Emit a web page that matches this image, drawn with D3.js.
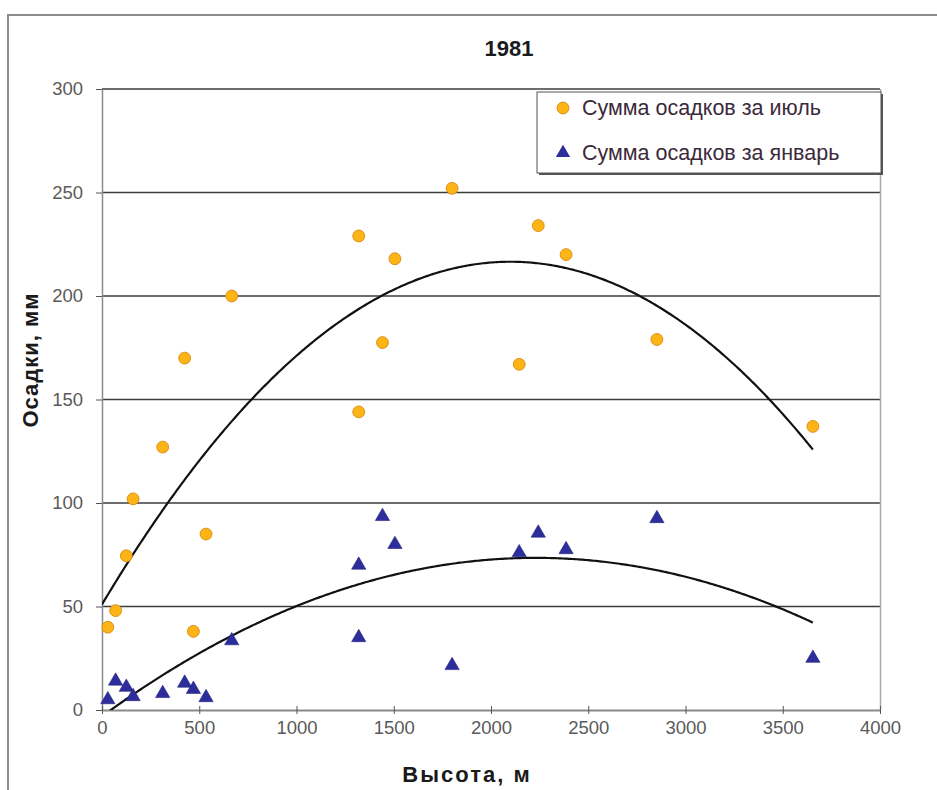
<!DOCTYPE html>
<html>
<head>
<meta charset="utf-8">
<script src="https://cdn.jsdelivr.net/npm/d3@7"></script>
<style>
  html, body { margin: 0; padding: 0; background: #fff; }
  svg { display: block; font-family: "Liberation Sans", Arial, sans-serif; }
</style>
</head>
<body>
<svg id="chart" width="937" height="790"></svg>
<script>
// Station heights (m) and monthly precipitation totals (mm), 1981
const heights   = [30, 70, 125, 160, 312, 425, 470, 535, 667, 1320, 1320, 1442, 1506, 1800, 2145, 2243, 2386, 2853, 3655];
const julyRain  = [40, 48, 74.5, 102, 127, 170, 38, 85, 200, 229, 144, 177.5, 218, 252, 167, 234, 220, 179, 137];
const janRain   = [5, 14, 11, 6.5, 8, 13, 10, 6, 33.5, 70, 35, 93.5, 80, 21.5, 76, 85.5, 77.5, 92.5, 25];

// second-order polynomial trendlines: [a, b, c] for y = a + b*x + c*x^2
const julyTrend = [51, 0.15767, -3.754e-5];
const janTrend  = [-3.08, 0.06868, -1.54e-5];

const xTicks = [0, 500, 1000, 1500, 2000, 2500, 3000, 3500, 4000];
const yTicks = [0, 50, 100, 150, 200, 250, 300];

const titleText  = "1981";
const xTitle     = "Высота, м";
const yTitle     = "Осадки, мм";
const julyLabel  = "Сумма осадков за июль";
const janLabel   = "Сумма осадков за январь";

const FONT = "'Liberation Sans', Arial, sans-serif";
const svg = d3.select("#chart");

// outer chart frame
svg.append("rect")
  .attr("x", 8).attr("y", 15).attr("width", 960).attr("height", 800)
  .attr("fill", "#fff").attr("stroke", "#8c8c8c").attr("stroke-width", 2);

const x = d3.scaleLinear().domain([0, 4000]).range([102, 880]);
const y = d3.scaleLinear().domain([0, 300]).range([710, 89]);

// horizontal gridlines
svg.append("g")
  .selectAll("line")
  .data(yTicks.filter(v => v > 0))
  .join("line")
  .attr("x1", x(0)).attr("x2", x(4000))
  .attr("y1", d => y(d)).attr("y2", d => y(d))
  .attr("stroke", "#3c3c3c").attr("stroke-width", 1.3);

// right border of plot area
svg.append("line")
  .attr("x1", x(4000) + 0.5).attr("x2", x(4000) + 0.5)
  .attr("y1", y(300)).attr("y2", y(0))
  .attr("stroke", "#a8a8a8").attr("stroke-width", 1.5);

// y axis
const yAxis = svg.append("g")
  .attr("transform", `translate(${x(0)},0)`)
  .call(d3.axisLeft(y).tickValues(yTicks).tickFormat(d3.format("d"))
    .tickSize(6).tickSizeOuter(0).tickPadding(13));
yAxis.select(".domain").attr("stroke", "#8a8a8a").attr("stroke-width", 1.5);
yAxis.selectAll(".tick line").attr("stroke", "#555");
yAxis.selectAll(".tick text")
  .attr("fill", "#5a5a5a").style("font-size", "18.5px").style("font-family", FONT);

// x axis
const xAxis = svg.append("g")
  .attr("transform", `translate(0,${y(0)})`)
  .call(d3.axisBottom(x).tickValues(xTicks).tickFormat(d3.format("d"))
    .tickSize(4).tickSizeOuter(0).tickPadding(7));
xAxis.select(".domain").attr("stroke", "#8a8a8a").attr("stroke-width", 2);
xAxis.selectAll(".tick line").attr("y1", -4).attr("stroke", "#555");
xAxis.selectAll(".tick text")
  .attr("fill", "#5a5a5a").style("font-size", "18.5px").style("font-family", FONT);

// clip region for trendlines
svg.append("clipPath").attr("id", "plotClip")
  .append("rect")
  .attr("x", x(0)).attr("y", y(300))
  .attr("width", x(4000) - x(0)).attr("height", y(0) - y(300));

function trend(coef) {
  const [a, b, c] = coef;
  const x1 = d3.max(heights);
  return d3.range(0, x1, 10).concat([x1]).map(h => [h, a + b * h + c * h * h]);
}

const line = d3.line().x(d => x(d[0])).y(d => y(d[1]));
const trends = svg.append("g").attr("clip-path", "url(#plotClip)");
[julyTrend, janTrend].forEach(coef => {
  trends.append("path")
    .attr("d", line(trend(coef)))
    .attr("fill", "none").attr("stroke", "#111").attr("stroke-width", 2.2);
});

// markers
const circleSym = d3.symbol().type(d3.symbolCircle).size(110);
const triSym = d3.symbol().type(d3.symbolTriangle).size(88);
const julyColor = "#FDB515", julyStroke = "#DE8F1C";
const janColor = "#2D2D9C";

svg.append("g").selectAll("path")
  .data(heights.map((h, i) => [h, julyRain[i]]))
  .join("path")
  .attr("d", circleSym)
  .attr("transform", d => `translate(${x(d[0])},${y(d[1])})`)
  .attr("fill", julyColor).attr("stroke", julyStroke).attr("stroke-width", 1);

svg.append("g").selectAll("path")
  .data(heights.map((h, i) => [h, janRain[i]]))
  .join("path")
  .attr("d", triSym)
  .attr("transform", d => `translate(${x(d[0])},${y(d[1])})`)
  .attr("fill", janColor).attr("stroke", "#23237f").attr("stroke-width", 0.6);

// title
svg.append("text")
  .attr("x", 509).attr("y", 56).attr("text-anchor", "middle")
  .style("font-size", "22px").style("font-weight", "bold").attr("fill", "#1a1a1a")
  .text(titleText);

// axis titles
svg.append("text")
  .attr("x", 467).attr("y", 782).attr("text-anchor", "middle")
  .style("font-size", "22px").style("font-weight", "bold")
  .style("letter-spacing", "2px").attr("fill", "#1a1a1a")
  .text(xTitle);
svg.append("text")
  .attr("transform", "translate(38,360) rotate(-90)")
  .attr("text-anchor", "middle")
  .style("font-size", "22px").style("font-weight", "bold")
  .style("letter-spacing", "1px").attr("fill", "#1a1a1a")
  .text(yTitle);

// legend
const lg = svg.append("g");
lg.append("rect")
  .attr("x", 539).attr("y", 94).attr("width", 344).attr("height", 81)
  .attr("fill", "#555");
lg.append("rect")
  .attr("x", 537).attr("y", 92).attr("width", 344).attr("height", 81)
  .attr("fill", "#fff").attr("stroke", "#555").attr("stroke-width", 1);
lg.append("path").attr("d", circleSym)
  .attr("transform", "translate(563,108)")
  .attr("fill", julyColor).attr("stroke", julyStroke);
lg.append("text").attr("x", 582).attr("y", 115)
  .style("font-size", "21.5px").attr("fill", "#3a2a3a").text(julyLabel);
lg.append("path").attr("d", triSym)
  .attr("transform", "translate(563,153)")
  .attr("fill", janColor);
lg.append("text").attr("x", 582).attr("y", 160)
  .style("font-size", "21.5px").attr("fill", "#3a2a3a").text(janLabel);
</script>
</body>
</html>
